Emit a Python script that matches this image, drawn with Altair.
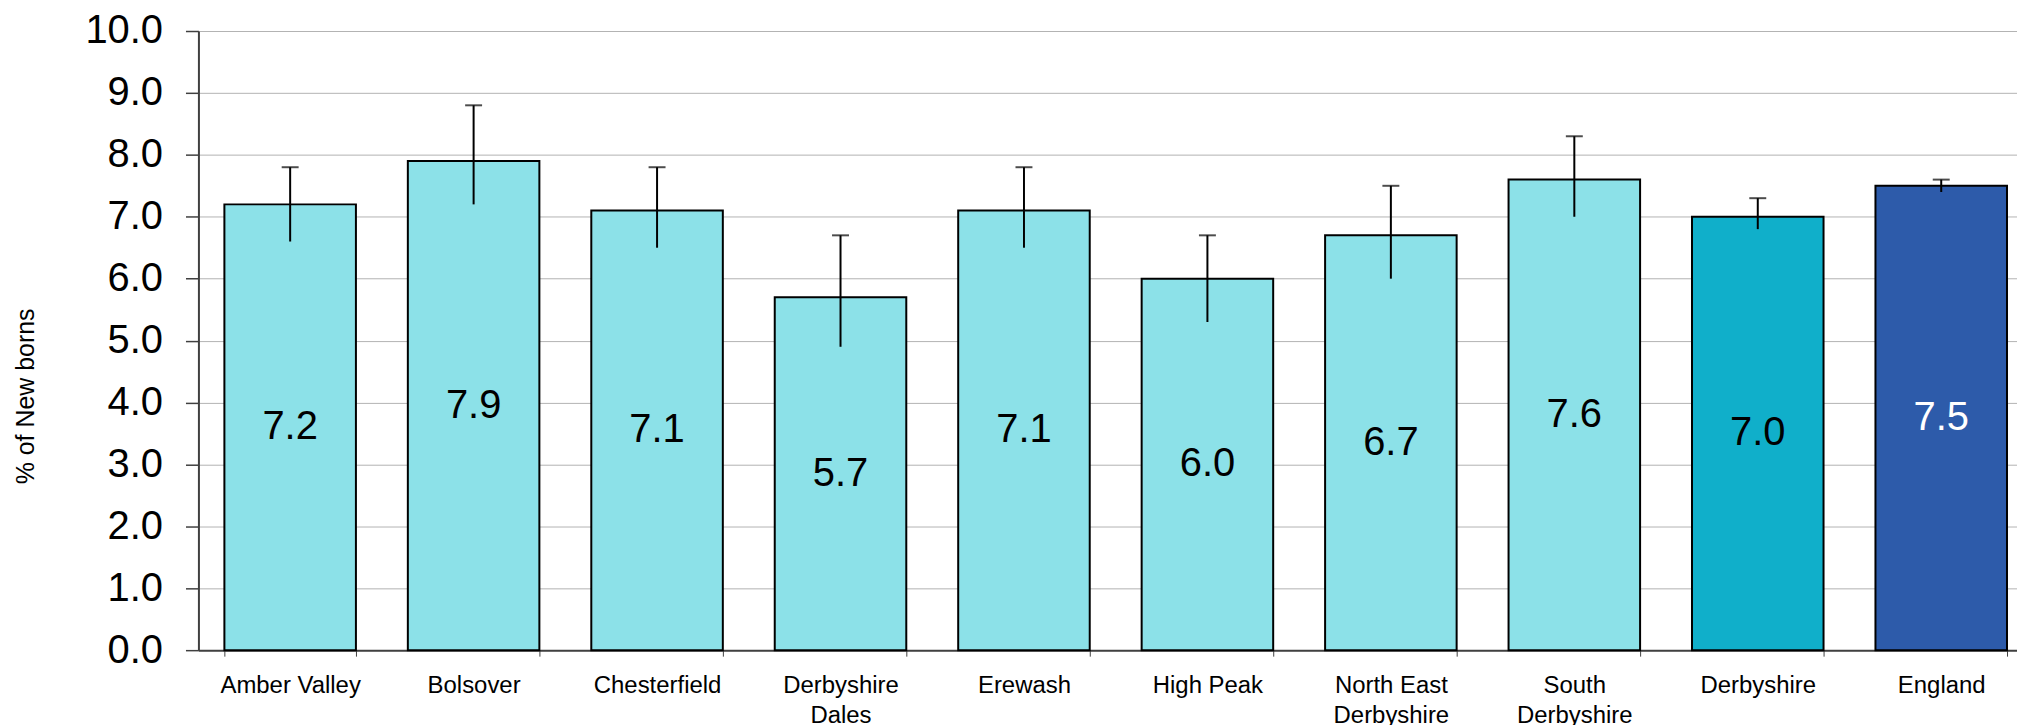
import altair as alt
import pandas as pd

# ---- data ----
areas = ["Amber Valley", "Bolsover", "Chesterfield", "Derbyshire\nDales", "Erewash",
         "High Peak", "North East\nDerbyshire", "South\nDerbyshire", "Derbyshire", "England"]
values = [7.2, 7.9, 7.1, 5.7, 7.1, 6.0, 6.7, 7.6, 7.0, 7.5]
lower_ci = [6.6, 7.2, 6.5, 4.9, 6.5, 5.3, 6.0, 7.0, 6.8, 7.4]
upper_ci = [7.8, 8.8, 7.8, 6.7, 7.8, 6.7, 7.5, 8.3, 7.3, 7.6]
y_tick_values = [0, 1, 2, 3, 4, 5, 6, 7, 8, 9, 10]

df = pd.DataFrame({"area": areas, "value": values, "lower": lower_ci, "upper": upper_ci})

# ---- styling ----
LIGHT = "#8CE1E8"
MID = "#10AFCA"
DARK = "#2D5BAA"
bar_colors = [LIGHT] * 8 + [MID, DARK]
text_colors = ["black"] * 9 + ["white"]
FONT = "Liberation Sans"
AXIS_GREY = "#404040"

W, H = 1818, 621
BAND_RANGE = 1840

xscale = alt.Scale(domain=areas, range=[0, BAND_RANGE], paddingInner=0.283, paddingOuter=0.1415)
x_axis = alt.Axis(title=None, labelAngle=0, labelFontSize=24, labelColor="black",
                  labelPadding=17, tickSize=6, tickColor=AXIS_GREY, tickBand="extent",
                  domainColor=AXIS_GREY, domainWidth=2,
                  labelExpr="split(datum.label, '\\n')", labelLineHeight=31,
                  labelBaseline="top", labelLimit=400)
y_axis = alt.Axis(values=y_tick_values, format=".1f", labelFontSize=40, labelColor="black",
                  labelPadding=23, tickSize=13, tickColor=AXIS_GREY, tickWidth=1.5,
                  domainColor=AXIS_GREY, domainWidth=2, gridColor="#b3b3b3", gridWidth=1,
                  title="% of New borns", titleFontSize=25, titleFontWeight="normal",
                  titleColor="black", titlePadding=47, titleY=366,
                  labelFlush=False, labelOverlap=False)
yscale = alt.Scale(domain=[0, 10], nice=False, zero=True)

X = alt.X("area:N", scale=xscale, sort=areas, axis=x_axis)


def Y(field):
    return alt.Y(field, scale=yscale, axis=y_axis, title="% of New borns")


base = alt.Chart(df)

bars = base.mark_bar(stroke="black", strokeWidth=2).encode(
    x=X, y=Y("value:Q"),
    color=alt.Color("area:N", scale=alt.Scale(domain=areas, range=bar_colors), legend=None),
)

err = base.mark_rule(color="black", strokeWidth=2).encode(
    x=X, y=Y("lower:Q"), y2="upper:Q"
)

caps = base.mark_tick(color="black", thickness=2, size=17, orient="horizontal").encode(
    x=X, y=Y("upper:Q")
)

labels = base.transform_calculate(mid="datum.value / 2").mark_text(
    fontSize=40, font=FONT, baseline="middle", align="center"
).encode(
    x=X, y=Y("mid:Q"),
    text=alt.Text("value:Q", format=".1f"),
    color=alt.Color("area:N", scale=alt.Scale(domain=areas, range=text_colors), legend=None),
)

chart = (
    alt.layer(bars, err, caps, labels)
    .resolve_scale(color="independent")
    .properties(
        width=W, height=H,
        autosize=alt.AutoSizeParams(type="none"),
        padding={"left": 191, "top": 22, "right": 6, "bottom": 80},
        background="white",
    )
    .configure_axis(labelFont=FONT, titleFont=FONT)
    .configure_view(stroke=None)
)

chart.save("out.html", embed_options={"renderer": "svg", "actions": False})
